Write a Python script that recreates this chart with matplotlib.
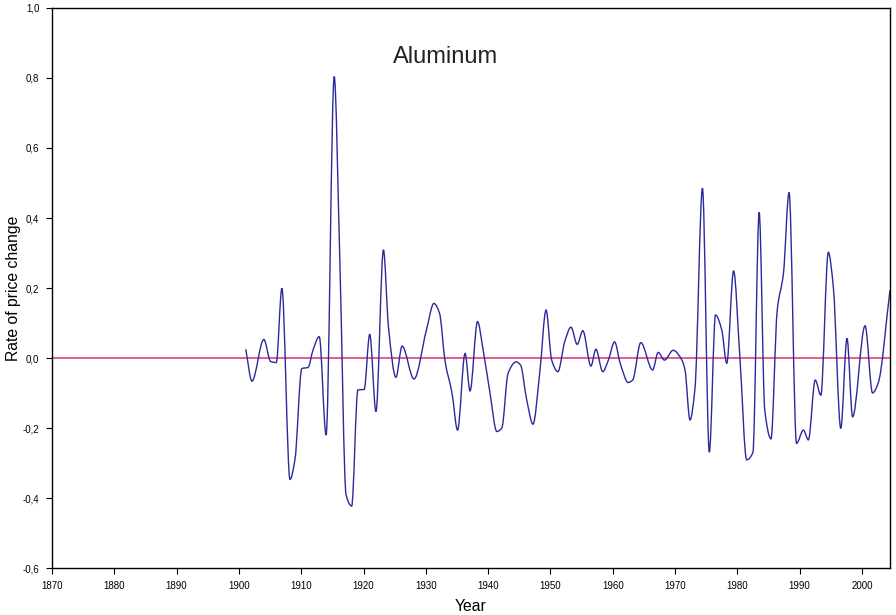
import matplotlib.pyplot as plt
from matplotlib.path import Path
from matplotlib.patches import PathPatch
from matplotlib.ticker import FuncFormatter

plt.rcParams["font.family"] = ["Liberation Sans", "DejaVu Sans"]

# ------------------------------------------------------------------
# Data (year, rate of price change)
# ------------------------------------------------------------------

years = [
    1901.1, 1902.1, 1904.0, 1905.1, 1906.0, 1906.9, 1908.2, 1909.0, 1910.1,
    1911.1, 1911.9, 1912.9, 1914.0, 1915.3, 1916.2, 1917.2, 1918.1, 1919.1,
    1920.1, 1921.0, 1922.0, 1923.2, 1924.0, 1925.2, 1926.2, 1928.1, 1930.1,
    1931.3, 1932.2, 1933.1, 1934.2, 1935.1, 1936.3, 1937.1, 1938.3, 1939.2,
    1940.3, 1941.4, 1942.2, 1943.2, 1944.5, 1945.2, 1946.2, 1947.2, 1948.3,
    1949.3, 1950.2, 1951.2, 1952.3, 1953.3, 1954.3, 1955.2, 1956.5, 1957.3,
    1958.4, 1959.3, 1960.3, 1961.2, 1962.5, 1963.2, 1964.5, 1966.4, 1967.3,
    1968.3, 1969.7, 1971.1, 1971.6, 1972.4, 1973.2, 1974.4, 1975.5, 1976.5,
    1977.5, 1978.3, 1979.4, 1980.4, 1981.5, 1982.5, 1983.5, 1984.4, 1985.4,
    1986.4, 1987.4, 1988.3, 1989.5, 1990.6, 1991.4, 1992.5, 1993.4, 1994.6,
    1995.4, 1996.6, 1997.6, 1998.5, 2000.5, 2001.7, 2002.6, 2004.5,
]
rate = [
    0.025, -0.066, 0.053, -0.010, -0.013, 0.199, -0.347, -0.290, -0.030,
    -0.027, 0.023, 0.061, -0.220, 0.804, 0.280, -0.391, -0.423, -0.091,
    -0.090, 0.068, -0.153, 0.309, 0.090, -0.055, 0.034, -0.060, 0.080,
    0.156, 0.128, -0.010, -0.100, -0.206, 0.013, -0.094, 0.104, 0.023,
    -0.100, -0.210, -0.200, -0.044, -0.011, -0.020, -0.120, -0.189, -0.040,
    0.137, -0.006, -0.039, 0.047, 0.088, 0.039, 0.078, -0.023, 0.025,
    -0.039, -0.006, 0.046, -0.015, -0.070, -0.063, 0.044, -0.034, 0.016,
    -0.006, 0.022, -0.006, -0.034, -0.177, -0.087, 0.485, -0.269, 0.123,
    0.080, -0.015, 0.249, 0.004, -0.291, -0.270, 0.416, -0.149, -0.231,
    0.137, 0.242, 0.473, -0.244, -0.206, -0.234, -0.063, -0.106, 0.302,
    0.204, -0.201, 0.056, -0.168, 0.092, -0.100, -0.072, 0.194,
]

x_ticks = list(range(1870, 2001, 10))
y_ticks = [-0.6, -0.4, -0.2, 0.0, 0.2, 0.4, 0.6, 0.8, 1.0]


def smooth_path(xs, ys):
    """Smoothed line drawn as cubic Bezier segments through the points
    (monotone tangents, so peaks sit on the read values)."""
    n = len(xs)
    h = [xs[i + 1] - xs[i] for i in range(n - 1)]
    d = [(ys[i + 1] - ys[i]) / h[i] for i in range(n - 1)]
    m = [d[0]] + [0.0] * (n - 2) + [d[-1]]
    for k in range(1, n - 1):
        if d[k - 1] * d[k] > 0:
            w1 = 2 * h[k] + h[k - 1]
            w2 = h[k] + 2 * h[k - 1]
            m[k] = (w1 + w2) / (w1 / d[k - 1] + w2 / d[k])
    verts = [(xs[0], ys[0])]
    codes = [Path.MOVETO]
    for i in range(n - 1):
        verts += [(xs[i] + h[i] / 3, ys[i] + m[i] * h[i] / 3),
                  (xs[i + 1] - h[i] / 3, ys[i + 1] - m[i + 1] * h[i] / 3),
                  (xs[i + 1], ys[i + 1])]
        codes += [Path.CURVE4] * 3
    return Path(verts, codes)


# ------------------------------------------------------------------
# Plot
# ------------------------------------------------------------------

fig = plt.figure(figsize=(8.96, 6.15), dpi=100)
ax = fig.add_axes([0.058, 0.0764, 0.9353, 0.9106])

ax.axhline(0, color="#d8307f", lw=1.1, zorder=1)
ax.add_patch(PathPatch(smooth_path(years, rate), facecolor="none",
                       edgecolor="#2a2a9a", lw=1.0, zorder=2))

ax.set_xlim(1870, 2004.5)
ax.set_ylim(-0.6, 1.0)
ax.set_xticks(x_ticks)
ax.set_yticks(y_ticks)
ax.yaxis.set_major_formatter(FuncFormatter(lambda v, p: f"{v:.1f}".replace(".", ",")))
ax.tick_params(labelsize=7, length=4, width=0.8, direction="out", pad=5)

for s in ax.spines.values():
    s.set_linewidth(1.0)
    s.set_color("black")

ax.set_xlabel("Year", fontsize=11.3, labelpad=6)
ax.set_ylabel("Rate of price change", fontsize=11.3, labelpad=1)
ax.text(0.47, 0.9125, "Aluminum", transform=ax.transAxes, ha="center", va="center",
        fontsize=17, color="#222222")

fig.savefig("out.png", dpi=100)
